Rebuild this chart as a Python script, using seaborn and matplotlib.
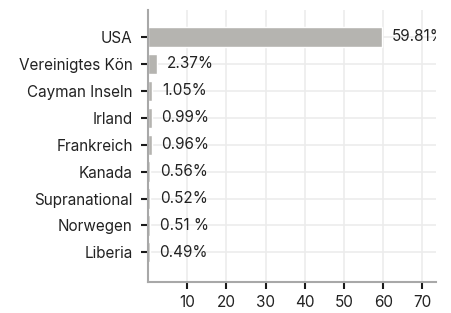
import matplotlib
matplotlib.use("Agg")
import matplotlib.pyplot as plt
import seaborn as sns
import pandas as pd

# Anteil je Land (%)
countries = ["USA", "Vereinigtes Kön", "Cayman Inseln", "Irland", "Frankreich",
             "Kanada", "Supranational", "Norwegen", "Liberia"]
shares = [59.81, 2.37, 1.05, 0.99, 0.96, 0.56, 0.52, 0.51, 0.49]
share_labels = ["59.81%", "2.37%", "1.05%", "0.99%", "0.96%", "0.56%", "0.52%", "0.51 %", "0.49%"]

df = pd.DataFrame({"land": countries, "anteil": shares})

sns.set_style("white")
plt.rcParams["font.family"] = ["Inter", "DejaVu Sans"]

fig, ax = plt.subplots(figsize=(4.51, 3.13), dpi=100)
sns.barplot(data=df, x="anteil", y="land", color="#b5b4b0", width=0.75,
            saturation=1, ax=ax, zorder=2)

# Werte rechts neben den Balken, am Achsenrand abgeschnitten
ax.bar_label(ax.containers[0], labels=share_labels, padding=7, fontsize=11,
             color="#222222", clip_on=True)

ax.set_xlim(0, 73.5)
ax.set_ylim(9.1, -1)
ax.set_xticks([10, 20, 30, 40, 50, 60, 70])
ax.set_xlabel("")
ax.set_ylabel("")
ax.grid(True, color="#ececec", linewidth=1.2, zorder=0)
ax.set_axisbelow(True)

sns.despine(ax=ax)
for s in ["left", "bottom"]:
    ax.spines[s].set_color("#a8a8a8")
    ax.spines[s].set_linewidth(1.5)

ax.tick_params(axis="both", which="both", left=True, bottom=True, length=5,
               width=1.5, color="#1a1a1a", labelsize=11, labelcolor="#222222", pad=4)
ax.tick_params(axis="y", pad=6)

fig.subplots_adjust(left=0.328, right=0.967, top=0.968, bottom=0.099)
fig.savefig("out.png", dpi=100)
